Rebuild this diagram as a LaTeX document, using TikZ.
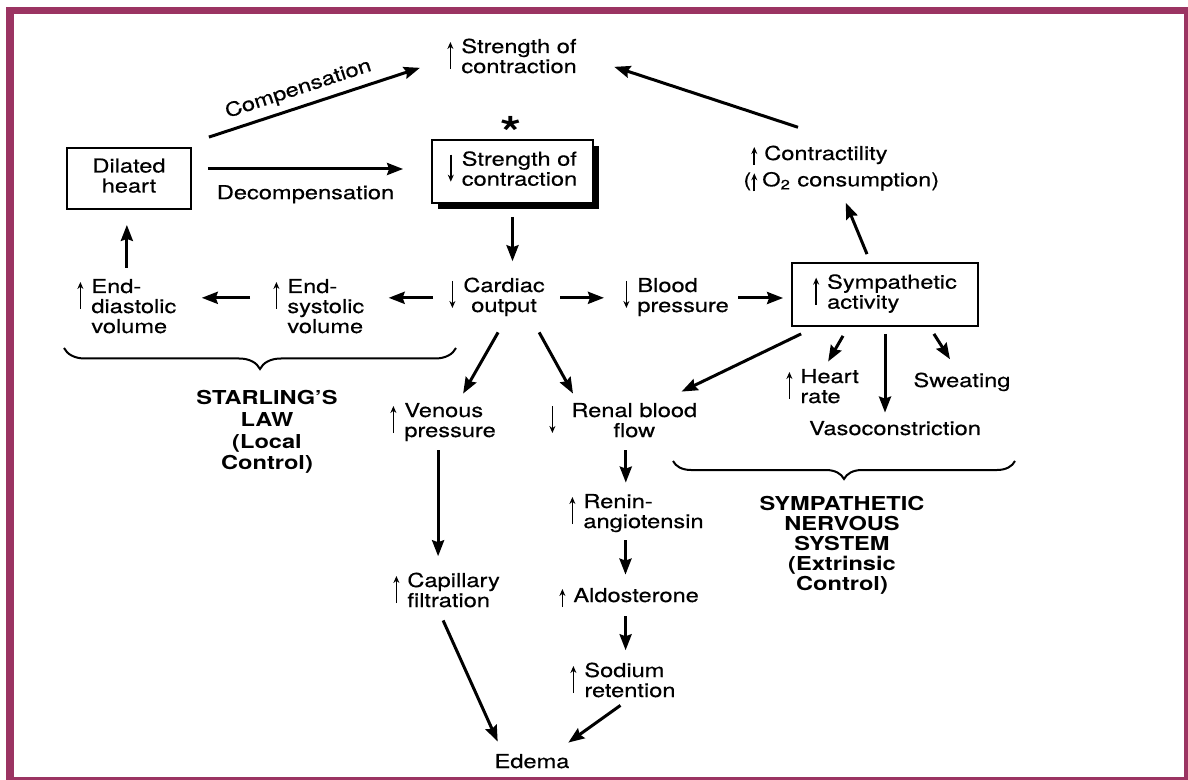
\documentclass[tikz,border=0pt]{standalone}
\usepackage{fontspec}
\setmainfont{TeX Gyre Heros}[FakeStretch=1.23, UprightFeatures={FakeBold=0.4}]
\usetikzlibrary{arrows.meta,shadows,decorations.pathreplacing}

\definecolor{framecol}{RGB}{155,52,98}

% small up / down arrows in the labels
\newcommand{\uparr}{\tikz[baseline=0pt]\draw[line width=0.9pt,-{Stealth[length=3.5pt,width=3pt]}] (0pt,-8pt) -- (0pt,5.5pt);}
\newcommand{\dnarr}{\tikz[baseline=0pt]\draw[line width=0.9pt,-{Stealth[length=3.5pt,width=3pt]}] (0pt,5.5pt) -- (0pt,-8pt);}
\newcommand{\uparrsm}{\tikz[baseline=0pt]\draw[line width=0.9pt,-{Stealth[length=3.5pt,width=3pt]}] (0pt,-2.5pt) -- (0pt,6.5pt);}

\begin{document}
\begin{tikzpicture}[x=0.5pt, y=-0.5pt,
	every node/.style={font=\fontsize{9.6}{10}\selectfont},
	txt/.style={inner sep=0pt, anchor=base west},
	boxnode/.style={draw, line width=0.9pt, fill=white, inner sep=0pt},
	arr/.style={line width=1.5pt, -{Stealth[length=8pt,width=6pt,inset=1pt]}},
	brc/.style={line width=1pt, decorate, decoration={brace,mirror,amplitude=#1}}]
				\useasboundingbox (0,0) rectangle (1188,780);
				% Frame
				\fill[framecol] (6,7) rectangle (1188,780);
				\fill[white] (14,14) rectangle (1184,777);

				% Heart
				\node[boxnode, minimum width=62pt, minimum height=30.5pt] (dilated) at (129,178.5) {\begin{tabular}[t]{@{}c@{}}Dilated\\heart\end{tabular}};
				\node[txt] (strup) at (447,53) {\uparr\hspace{4pt}\begin{tabular}[t]{@{}l@{}}Strength of\\contraction\end{tabular}};
				\node[font=\fontsize{22}{22}\selectfont\bfseries, inner sep=0pt, anchor=north] (star) at (511,116) {*};
				\node[boxnode, minimum width=80.5pt, minimum height=31.5pt,
					drop shadow={shadow xshift=3pt, shadow yshift=-3pt, fill=black, opacity=1}] (strdn) at (512.5,171.5)
					{\dnarr\hspace{4pt}\begin{tabular}[t]{@{}l@{}}Strength of\\contraction\end{tabular}};
				\node[txt] (contract) at (743,160) {\begin{tabular}[t]{@{}l@{}}\phantom{(}\uparrsm\hspace{3.5pt}Contractility\\[3pt](\uparrsm\hspace{2.5pt}O\textsubscript{2} consumption)\end{tabular}};

				\draw[arr] ([shift={(17,-10)}]dilated.north east) -- ([shift={(-27,9)}]strup.west) node[pos=0.45, above, sloped] {Compensation};
				\draw[arr] ([shift={(16,-9.5)}]dilated.east) -- ([shift={(-28,-2.5)}]strdn.west) node[midway, below=4pt] {Decompensation};
				\draw[arr] ([shift={(55,-18)}]contract.north west) -- ([shift={(37,8)}]strup.east);

				% Middle row
				\node[txt] (edia) at (77,293) {\uparr\hspace{4pt}\begin{tabular}[t]{@{}l@{}}End-\\diastolic\\volume\end{tabular}};
				\node[txt] (esys) at (273,293) {\uparr\hspace{4pt}\begin{tabular}[t]{@{}l@{}}End-\\systolic\\volume\end{tabular}};
				\node[txt] (cardiac) at (449,292) {\dnarr\hspace{4pt}\begin{tabular}[t]{@{}c@{}}Cardiac\\output\end{tabular}};
				\node[txt] (blood) at (623,292) {\dnarr\hspace{4pt}\begin{tabular}[t]{@{}l@{}}Blood\\pressure\end{tabular}};
				\node[boxnode, minimum width=93pt, minimum height=31.5pt] (symp) at (885,294.5) {\uparr\hspace{4pt}\begin{tabular}[t]{@{}l@{}}Sympathetic\\activity\end{tabular}};

				\draw[arr] ([shift={(-18,-8)}]symp.north) -- ([shift={(4.5,10)}]contract.south);
				\draw[arr, shorten <=6.5pt, shorten >=8pt] (strdn.south) -- (strdn.south |- cardiac.north);
				\draw[arr, shorten <=8pt, shorten >=12pt] (cardiac.west) -- (cardiac.west -| esys.east);
				\draw[arr, shorten <=11.5pt, shorten >=12.5pt] (esys.west |- cardiac.west) -- (edia.east |- cardiac.west);
				\draw[arr, shorten <=5.5pt, shorten >=7.5pt] (edia.north) -- (edia.north |- dilated.south);
				\draw[arr, shorten <=7.5pt, shorten >=9.5pt] (cardiac.east) -- (cardiac.east -| blood.west);
				\draw[arr, shorten <=4.5pt, shorten >=4pt] (blood.east) -- (blood.east -| symp.west);

				% Starling's law
				\draw[brc=10.5pt] (64,348) -- (456,348);
				\node[txt, anchor=base, font=\fontsize{9.6}{10.75}\selectfont\bfseries] (starling) at (267,405) {\begin{tabular}[t]{@{}c@{}}STARLING'S\\LAW\\(Local\\Control)\end{tabular}};

				% Lower branches
				\node[txt] (venous) at (390,417) {\uparr\hspace{4pt}\begin{tabular}[t]{@{}l@{}}Venous\\pressure\end{tabular}};
				\node[txt] (renal) at (549,417) {\dnarr\hspace{8pt}\begin{tabular}[t]{@{}c@{}}Renal blood\\flow\end{tabular}};
				\node[txt] (hrate) at (786,383) {\uparr\hspace{4pt}\begin{tabular}[t]{@{}l@{}}Heart\\rate\end{tabular}};
				\node[txt, anchor=base] (sweat) at (962,387) {Sweating};
				\node[txt, anchor=base] (vaso) at (895,435) {Vasoconstriction};

				\draw[arr] ([shift={(1,14)}]cardiac.south) -- ([shift={(20,-9)}]venous.north);
				\draw[arr] ([shift={(-6,14)}]cardiac.south east) -- ([shift={(24,-9)}]renal.north west);
				\draw[arr] ([shift={(10,7)}]symp.south west) -- ([shift={(-16,-11)}]renal.north east);
				\draw[arr] ([shift={(-42,9)}]symp.south) -- ([shift={(5.5,-7)}]hrate.north);
				\draw[arr, shorten <=3.5pt, shorten >=4pt] (symp.south) -- (symp.south |- vaso.north);
				\draw[arr] ([shift={(-45,7)}]symp.south east) -- ([shift={(-12,-13)}]sweat.north);

				% Sympathetic nervous system
				\draw[brc=9pt] (673,461) -- (1015,461);
				\node[txt, anchor=base, font=\fontsize{9.6}{10}\selectfont\bfseries] (sns) at (842,510) {\begin{tabular}[t]{@{}c@{}}SYMPATHETIC\\NERVOUS\\SYSTEM\\(Extrinsic\\Control)\end{tabular}};

				% Renal chain and edema
				\node[txt] (capill) at (393,587) {\uparr\hspace{4pt}\begin{tabular}[t]{@{}l@{}}Capillary\\filtration\end{tabular}};
				\node[txt] (renin) at (569,508) {\uparr\hspace{4pt}\begin{tabular}[t]{@{}l@{}}Renin-\\angiotensin\end{tabular}};
				\node[txt] (aldo) at (559,602) {\uparrsm\hspace{4pt}Aldosterone};
				\node[txt] (sodium) at (570,677) {\uparr\hspace{4pt}\begin{tabular}[t]{@{}l@{}}Sodium\\retention\end{tabular}};
				\node[txt, anchor=base] (edema) at (532,768) {Edema};

				\draw[arr, shorten <=3.5pt, shorten >=8pt] ([xshift=-2.5pt]venous.south) -- ([xshift=-2.5pt]venous.south |- capill.north);
				\draw[arr, shorten <=3.5pt, shorten >=5.5pt] ([xshift=1.25pt]renal.south) -- ([xshift=1.25pt]renal.south |- renin.north);
				\draw[arr, shorten <=3pt, shorten >=6.5pt] ([xshift=-5.5pt]renin.south) -- ([xshift=-5.5pt]renin.south |- aldo.north);
				\draw[arr, shorten <=4pt, shorten >=6pt] ([xshift=-1.75pt]aldo.south) -- ([xshift=-1.75pt]aldo.south |- sodium.north);
				\draw[arr] ([shift={(-3.5,7)}]capill.south) -- ([shift={(3.5,-12)}]edema.north west);
				\draw[arr] ([shift={(-2.5,2)}]sodium.south) -- ([shift={(-1.5,-11)}]edema.north east);
\end{tikzpicture}
\end{document}
